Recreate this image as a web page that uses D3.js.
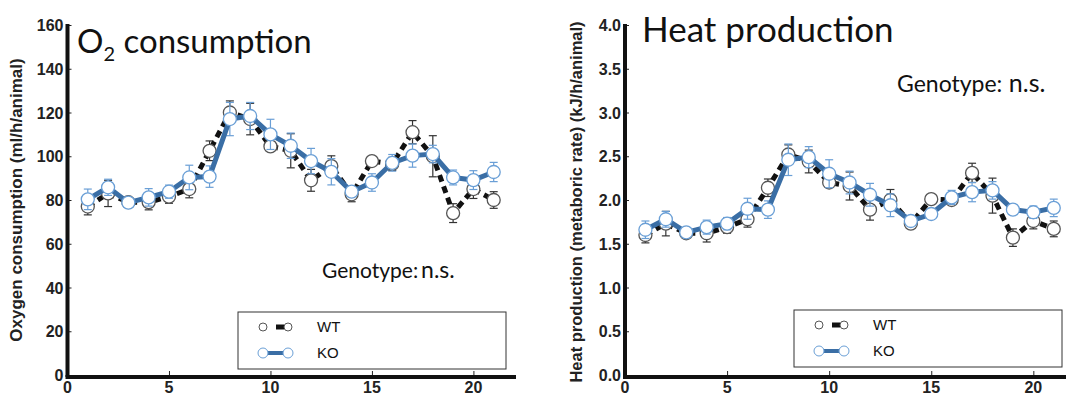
<!DOCTYPE html>
<html>
<head>
<meta charset="utf-8">
<script src="https://cdn.jsdelivr.net/npm/d3@7"></script>
<style>
  body { margin: 0; background: #fff; }
  svg { display: block; }
  .tick-lab { font-family: "Liberation Sans", Arial, sans-serif; font-weight: bold; font-size: 16px; fill: #222; }
</style>
</head>
<body>
<svg id="chart" width="1069" height="396"></svg>
<script>
// hours (x values)
const hours = d3.range(1, 22);

// Oxygen consumption (ml/h/animal)
const o2WT    = [77, 83, 79, 79, 81.5, 85, 102.5, 120, 117, 104.5, 102.5, 89, 95.5, 82.6, 97.8, 96.5, 111, 100, 74, 85, 80];
const o2WTerr = [3.8, 6, 2, 3.5, 3, 4, 4.5, 5.3, 7.2, 2, 7.8, 5, 4.7, 3.4, 2, 3, 5.3, 9.4, 4.3, 4.3, 3.8];
const o2KO    = [80.3, 85.8, 78.8, 81.2, 83.8, 90.3, 90.7, 117, 118.4, 110, 104.8, 97.8, 92.9, 83.8, 88, 97, 100.3, 101, 90.3, 89.1, 92.8];
const o2KOerr = [4.7, 3.7, 2, 4, 3, 5.6, 4.9, 7.6, 6.2, 6.9, 5.8, 5.8, 6, 2, 4, 3.8, 5.3, 4, 3.4, 4.3, 4.4];

// Heat production (kJ/h/animal)
const heatWT    = [1.6, 1.73, 1.62, 1.62, 1.69, 1.78, 2.14, 2.52, 2.44, 2.2, 2.16, 1.89, 2.0, 1.73, 2.01, 2.0, 2.31, 2.05, 1.57, 1.76, 1.67];
const heatWTerr = [0.09, 0.14, 0.04, 0.1, 0.07, 0.09, 0.1, 0.11, 0.13, 0.05, 0.16, 0.12, 0.12, 0.05, 0.05, 0.04, 0.11, 0.2, 0.1, 0.09, 0.09];
const heatKO    = [1.66, 1.78, 1.63, 1.69, 1.73, 1.9, 1.89, 2.46, 2.49, 2.3, 2.2, 2.06, 1.94, 1.76, 1.84, 2.03, 2.09, 2.11, 1.89, 1.86, 1.91];
const heatKOerr = [0.1, 0.09, 0.04, 0.08, 0.07, 0.12, 0.1, 0.18, 0.12, 0.16, 0.13, 0.13, 0.13, 0.04, 0.05, 0.08, 0.11, 0.1, 0.05, 0.07, 0.1];

const xTicks = [0, 5, 10, 15, 20];
const o2Ticks = [0, 20, 40, 60, 80, 100, 120, 140, 160];
const heatTicks = [0, 0.5, 1, 1.5, 2, 2.5, 3, 3.5, 4];

const blueLine = "#3a6ea5";
const blueMark = "#6a9fd6";
const wtMark = "#555";

const svg = d3.select("#chart");

function drawPanel(p) {
  const x = d3.scaleLinear().domain([0, p.xMax]).range([p.left, p.right]);
  const y = d3.scaleLinear().domain(p.yDomain).range([375, 25]);
  const g = svg.append("g");

  // y axis
  g.append("g")
    .attr("transform", `translate(${p.left},0)`)
    .call(d3.axisRight(y).tickValues(p.yTicks).tickSize(4).tickFormat(""))
    .call(a => a.select(".domain").remove())
    .call(a => a.selectAll("line").attr("stroke", "#222"));
  g.append("line")
    .attr("x1", p.left).attr("x2", p.left)
    .attr("y1", y(p.yDomain[1]) - 1).attr("y2", 377)
    .attr("stroke", "#111").attr("stroke-width", 4);
  g.selectAll(".ylab").data(p.yTicks).join("text")
    .attr("class", "tick-lab")
    .attr("x", p.left - 4).attr("y", d => y(d) + 6)
    .attr("text-anchor", "end")
    .text(p.yFormat);

  // x axis
  g.append("g")
    .attr("transform", "translate(0,375)")
    .call(d3.axisTop(x).tickValues(xTicks.slice(1)).tickSize(4).tickFormat(""))
    .call(a => a.select(".domain").remove())
    .call(a => a.selectAll("line").attr("stroke", "#222"));
  g.append("line")
    .attr("x1", p.left - 2).attr("x2", p.axisEnd)
    .attr("y1", 377).attr("y2", 377)
    .attr("stroke", "#111").attr("stroke-width", 4);
  g.selectAll(".xlab").data(xTicks).join("text")
    .attr("class", "tick-lab")
    .attr("x", d => x(d)).attr("y", 393)
    .attr("text-anchor", "middle")
    .text(d => d);

  // y axis title
  g.append("text")
    .attr("transform", `translate(${p.yTitleX},${p.yTitleY}) rotate(-90)`)
    .attr("text-anchor", "middle")
    .style("font-family", "Liberation Sans, Arial, sans-serif")
    .style("font-weight", "bold").style("font-size", p.yTitleSize + "px").style("fill", "#222")
    .text(p.yTitle);

  // series
  function series(vals, errs, lineColor, lineW, dash, markColor, barColor) {
    const pts = hours.map((h, i) => ({ h, v: vals[i], e: errs[i] }));
    const eb = g.append("g").attr("stroke", barColor).attr("stroke-width", 1.2);
    pts.forEach(d => {
      eb.append("line").attr("x1", x(d.h)).attr("x2", x(d.h)).attr("y1", y(d.v - d.e)).attr("y2", y(d.v + d.e));
      eb.append("line").attr("x1", x(d.h) - 4).attr("x2", x(d.h) + 4).attr("y1", y(d.v - d.e)).attr("y2", y(d.v - d.e));
      eb.append("line").attr("x1", x(d.h) - 4).attr("x2", x(d.h) + 4).attr("y1", y(d.v + d.e)).attr("y2", y(d.v + d.e));
    });
    g.append("path").datum(pts)
      .attr("fill", "none").attr("stroke", lineColor).attr("stroke-width", lineW)
      .attr("stroke-dasharray", dash)
      .attr("d", d3.line().x(d => x(d.h)).y(d => y(d.v)));
    g.selectAll(null).data(pts).join("circle")
      .attr("cx", d => x(d.h)).attr("cy", d => y(d.v)).attr("r", 6.5)
      .attr("fill", "#fff").attr("stroke", markColor).attr("stroke-width", 1.3);
  }
  series(p.wt, p.wtErr, "#111", 5, "7,5", wtMark, "#333");
  series(p.ko, p.koErr, blueLine, 5, null, blueMark, blueMark);

  // legend
  const lg = g.append("g").attr("transform", `translate(${p.legX},${p.legY})`);
  lg.append("rect").attr("width", 268).attr("height", 57)
    .attr("fill", "#fff").attr("stroke", "#333").attr("stroke-width", 1);
  const items = [
    { name: "WT", line: "#111", dash: "0,13,8,20", w: 5, mark: wtMark, yy: 15, r: 4 },
    { name: "KO", line: blueLine, dash: null, w: 4, mark: blueMark, yy: 41, r: 5 }
  ];
  items.forEach(it => {
    lg.append("line").attr("x1", 25).attr("x2", 50).attr("y1", it.yy).attr("y2", it.yy)
      .attr("stroke", it.line).attr("stroke-width", it.w).attr("stroke-dasharray", it.dash);
    [25, 50].forEach(cx => lg.append("circle").attr("cx", cx).attr("cy", it.yy).attr("r", it.r)
      .attr("fill", "#fff").attr("stroke", it.mark).attr("stroke-width", 1));
    lg.append("text").attr("x", 79).attr("y", it.yy + 5)
      .style("font-family", "Liberation Sans, Arial, sans-serif").style("font-size", "15px").style("fill", "#111")
      .text(it.name);
  });

  // title
  const t = g.append("text").attr("x", p.titleX).attr("y", p.titleY)
    .style("font-family", "Lato, 'Open Sans', sans-serif").style("fill", "#111");
  p.title.forEach(part => {
    t.append("tspan").attr("dy", part.sub ? 8 : (part.after ? -8 : 0))
      .style("font-size", part.sub ? "20px" : p.titleSize + "px").text(part.text);
  });

  // genotype note
  const n = g.append("text").attr("x", p.noteX).attr("y", p.noteY)
    .style("font-family", "Lato, 'Open Sans', sans-serif").style("fill", "#111");
  n.append("tspan").style("font-size", p.noteSize + "px").text("Genotype:");
  n.append("tspan").style("font-size", (p.noteSize + 2) + "px").text(p.noteGap + "n.s.");
}

drawPanel({
  left: 67.5, right: 514, xMax: 22, axisEnd: 516,
  yDomain: [0, 160], yTicks: o2Ticks, yFormat: d => d,
  yTitle: "Oxygen consumption (ml/h/animal)", yTitleX: 22, yTitleY: 200, yTitleSize: 17,
  wt: o2WT, wtErr: o2WTerr, ko: o2KO, koErr: o2KOerr,
  legX: 238, legY: 312,
  title: [{ text: "O" }, { text: "2", sub: true }, { text: " consumption", after: true }],
  titleX: 77, titleY: 53, titleSize: 33,
  noteX: 322, noteY: 278, noteSize: 21, noteGap: "\u2009"
});

drawPanel({
  left: 625, right: 1066, xMax: 21.6, axisEnd: 1066,
  yDomain: [0, 4], yTicks: heatTicks, yFormat: d => d.toFixed(1),
  yTitle: "Heat production (metaboric rate) (kJ/h/animal)", yTitleX: 582, yTitleY: 202, yTitleSize: 16.5,
  wt: heatWT, wtErr: heatWTerr, ko: heatKO, koErr: heatKOerr,
  legX: 794, legY: 310,
  title: [{ text: "Heat production" }],
  titleX: 642, titleY: 42, titleSize: 35,
  noteX: 897, noteY: 92, noteSize: 23, noteGap: "  "
});
</script>
</body>
</html>
